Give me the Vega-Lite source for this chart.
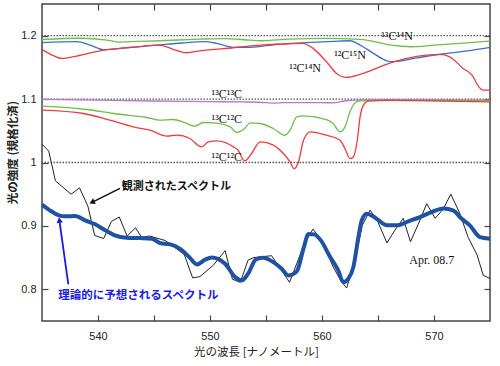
{
  "$schema": "https://vega.github.io/schema/vega-lite/v6.json",
  "width": 448,
  "height": 317,
  "autosize": {"type": "none"},
  "padding": {"left": 42, "top": 4, "right": 10, "bottom": 45},
  "background": "white",
  "config": {
    "view": {"stroke": "#444", "strokeWidth": 1.5},
    "axis": {"grid": false, "domain": false, "tickSize": -6, "tickColor": "#444", "tickWidth": 1.2, "labelFont": "Liberation Sans", "labelFontSize": 11, "labelColor": "#222"}
  },
  "datasets": {
    "refs": [{"v": 1.0}, {"v": 1.1}, {"v": 1.2}],
    "obs": [
      {"wl": 535.0, "v": 1.029}, {"wl": 535.6, "v": 1.018}, {"wl": 536.2, "v": 0.971}, {"wl": 537.6, "v": 0.950},
      {"wl": 538.35, "v": 0.960}, {"wl": 539.1, "v": 0.931}, {"wl": 539.7, "v": 0.885}, {"wl": 540.5, "v": 0.880},
      {"wl": 541.2, "v": 0.907}, {"wl": 541.9, "v": 0.914}, {"wl": 542.6, "v": 0.884}, {"wl": 543.35, "v": 0.897},
      {"wl": 543.9, "v": 0.882}, {"wl": 544.6, "v": 0.884}, {"wl": 546.0, "v": 0.877}, {"wl": 547.7, "v": 0.855},
      {"wl": 548.45, "v": 0.818}, {"wl": 549.1, "v": 0.820}, {"wl": 550.3, "v": 0.838}, {"wl": 551.35, "v": 0.861},
      {"wl": 552.0, "v": 0.816}, {"wl": 552.7, "v": 0.811}, {"wl": 553.4, "v": 0.846}, {"wl": 553.9, "v": 0.850},
      {"wl": 555.5, "v": 0.853}, {"wl": 557.1, "v": 0.811}, {"wl": 558.5, "v": 0.875}, {"wl": 559.2, "v": 0.895},
      {"wl": 560.0, "v": 0.876}, {"wl": 561.0, "v": 0.835}, {"wl": 561.7, "v": 0.813}, {"wl": 562.2, "v": 0.802},
      {"wl": 562.95, "v": 0.846}, {"wl": 563.6, "v": 0.901}, {"wl": 564.3, "v": 0.925}, {"wl": 565.0, "v": 0.906},
      {"wl": 565.8, "v": 0.873}, {"wl": 566.5, "v": 0.893}, {"wl": 567.25, "v": 0.912}, {"wl": 567.9, "v": 0.875},
      {"wl": 568.6, "v": 0.903}, {"wl": 569.35, "v": 0.935}, {"wl": 570.1, "v": 0.912}, {"wl": 570.8, "v": 0.926},
      {"wl": 571.5, "v": 0.950}, {"wl": 572.25, "v": 0.922}, {"wl": 573.05, "v": 0.882}, {"wl": 573.85, "v": 0.854},
      {"wl": 574.4, "v": 0.822}, {"wl": 575.0, "v": 0.817}
    ],
    "theo": [
      {"wl": 535.0, "v": 0.9336}, {"wl": 535.7, "v": 0.9246}, {"wl": 536.5, "v": 0.9167}, {"wl": 537.05, "v": 0.9151},
      {"wl": 537.95, "v": 0.9156}, {"wl": 538.85, "v": 0.9088}, {"wl": 539.75, "v": 0.9025}, {"wl": 540.65, "v": 0.8930},
      {"wl": 541.5, "v": 0.8851}, {"wl": 542.55, "v": 0.8814}, {"wl": 543.75, "v": 0.8808}, {"wl": 544.8, "v": 0.8799},
      {"wl": 545.55, "v": 0.8729}, {"wl": 546.45, "v": 0.8709}, {"wl": 547.3, "v": 0.8641}, {"wl": 548.2, "v": 0.8498},
      {"wl": 548.85, "v": 0.8393}, {"wl": 549.55, "v": 0.8467}, {"wl": 550.2, "v": 0.8503}, {"wl": 550.7, "v": 0.8480},
      {"wl": 551.35, "v": 0.8404}, {"wl": 552.25, "v": 0.8192}, {"wl": 552.85, "v": 0.8140}, {"wl": 553.4, "v": 0.8246},
      {"wl": 554.1, "v": 0.8472}, {"wl": 554.75, "v": 0.8498}, {"wl": 555.65, "v": 0.8429}, {"wl": 556.4, "v": 0.8325},
      {"wl": 557.0, "v": 0.8219}, {"wl": 557.75, "v": 0.8282}, {"wl": 558.35, "v": 0.8645}, {"wl": 558.8, "v": 0.8874},
      {"wl": 559.3, "v": 0.8866}, {"wl": 559.9, "v": 0.8772}, {"wl": 560.65, "v": 0.8535}, {"wl": 561.45, "v": 0.8298},
      {"wl": 561.9, "v": 0.8113}, {"wl": 562.35, "v": 0.8167}, {"wl": 562.8, "v": 0.8350}, {"wl": 563.25, "v": 0.8824},
      {"wl": 563.55, "v": 0.9088}, {"wl": 564.0, "v": 0.9193}, {"wl": 564.75, "v": 0.9130}, {"wl": 565.8, "v": 0.9009},
      {"wl": 566.7, "v": 0.9009}, {"wl": 567.7, "v": 0.9072}, {"wl": 568.75, "v": 0.9140}, {"wl": 569.8, "v": 0.9219},
      {"wl": 570.85, "v": 0.9273}, {"wl": 571.7, "v": 0.9246}, {"wl": 572.45, "v": 0.9115}, {"wl": 573.2, "v": 0.9009},
      {"wl": 574.1, "v": 0.8824}, {"wl": 575.0, "v": 0.8799}
    ],
    "mol": [
      {"s": "13C14N", "wl": 535, "v": 1.194}, {"s": "13C14N", "wl": 538.4, "v": 1.196}, {"s": "13C14N", "wl": 540.8, "v": 1.193},
      {"s": "13C14N", "wl": 541.8, "v": 1.190}, {"s": "13C14N", "wl": 543.5, "v": 1.191}, {"s": "13C14N", "wl": 545.5, "v": 1.192},
      {"s": "13C14N", "wl": 549, "v": 1.1945}, {"s": "13C14N", "wl": 551.2, "v": 1.1955}, {"s": "13C14N", "wl": 553.6, "v": 1.193},
      {"s": "13C14N", "wl": 554.5, "v": 1.192}, {"s": "13C14N", "wl": 557, "v": 1.1945}, {"s": "13C14N", "wl": 560.4, "v": 1.1958},
      {"s": "13C14N", "wl": 563.4, "v": 1.1942}, {"s": "13C14N", "wl": 564.9, "v": 1.190}, {"s": "13C14N", "wl": 566.0, "v": 1.1855},
      {"s": "13C14N", "wl": 567, "v": 1.1836}, {"s": "13C14N", "wl": 567.9, "v": 1.1826}, {"s": "13C14N", "wl": 570, "v": 1.185},
      {"s": "13C14N", "wl": 572.3, "v": 1.1879}, {"s": "13C14N", "wl": 575, "v": 1.1916},
      {"s": "12C15N", "wl": 535, "v": 1.189}, {"s": "12C15N", "wl": 538.1, "v": 1.1905}, {"s": "12C15N", "wl": 539.3, "v": 1.185},
      {"s": "12C15N", "wl": 540.5, "v": 1.178}, {"s": "12C15N", "wl": 542.5, "v": 1.181}, {"s": "12C15N", "wl": 545.2, "v": 1.185},
      {"s": "12C15N", "wl": 547.5, "v": 1.1885}, {"s": "12C15N", "wl": 549.5, "v": 1.1905}, {"s": "12C15N", "wl": 550.6, "v": 1.188},
      {"s": "12C15N", "wl": 552.1, "v": 1.1816}, {"s": "12C15N", "wl": 553.6, "v": 1.1816}, {"s": "12C15N", "wl": 556, "v": 1.1865},
      {"s": "12C15N", "wl": 558.6, "v": 1.189}, {"s": "12C15N", "wl": 561, "v": 1.191}, {"s": "12C15N", "wl": 562.5, "v": 1.192},
      {"s": "12C15N", "wl": 563.4, "v": 1.1852}, {"s": "12C15N", "wl": 564.6, "v": 1.1721}, {"s": "12C15N", "wl": 565.8, "v": 1.1604},
      {"s": "12C15N", "wl": 566.4, "v": 1.159}, {"s": "12C15N", "wl": 568.5, "v": 1.165}, {"s": "12C15N", "wl": 570.5, "v": 1.1705},
      {"s": "12C15N", "wl": 573, "v": 1.176}, {"s": "12C15N", "wl": 575, "v": 1.1816},
      {"s": "12C14N", "wl": 535, "v": 1.1784}, {"s": "12C14N", "wl": 535.9, "v": 1.1694}, {"s": "12C14N", "wl": 536.75, "v": 1.1642},
      {"s": "12C14N", "wl": 538.1, "v": 1.1679}, {"s": "12C14N", "wl": 540.5, "v": 1.1773}, {"s": "12C14N", "wl": 543, "v": 1.1815},
      {"s": "12C14N", "wl": 545.5, "v": 1.1852}, {"s": "12C14N", "wl": 546.8, "v": 1.178}, {"s": "12C14N", "wl": 547.9, "v": 1.1731},
      {"s": "12C14N", "wl": 549.1, "v": 1.1762}, {"s": "12C14N", "wl": 552.1, "v": 1.181}, {"s": "12C14N", "wl": 554.5, "v": 1.1852},
      {"s": "12C14N", "wl": 556.5, "v": 1.1868}, {"s": "12C14N", "wl": 558.3, "v": 1.1879}, {"s": "12C14N", "wl": 559.2, "v": 1.18},
      {"s": "12C14N", "wl": 560.4, "v": 1.1589}, {"s": "12C14N", "wl": 561.3, "v": 1.1405}, {"s": "12C14N", "wl": 562.2, "v": 1.1342},
      {"s": "12C14N", "wl": 563.4, "v": 1.1389}, {"s": "12C14N", "wl": 566.4, "v": 1.1589}, {"s": "12C14N", "wl": 570.5, "v": 1.1705},
      {"s": "12C14N", "wl": 571.4, "v": 1.1667}, {"s": "12C14N", "wl": 572.6, "v": 1.1484}, {"s": "12C14N", "wl": 573.4, "v": 1.1378},
      {"s": "12C14N", "wl": 574.0, "v": 1.1193}, {"s": "12C14N", "wl": 574.4, "v": 1.1141}, {"s": "12C14N", "wl": 575, "v": 1.1141},
      {"s": "13C13C", "wl": 535, "v": 1.0995}, {"s": "13C13C", "wl": 540, "v": 1.0985}, {"s": "13C13C", "wl": 545, "v": 1.097},
      {"s": "13C13C", "wl": 550, "v": 1.096}, {"s": "13C13C", "wl": 553, "v": 1.0955}, {"s": "13C13C", "wl": 555, "v": 1.0945},
      {"s": "13C13C", "wl": 555.8, "v": 1.0935}, {"s": "13C13C", "wl": 556.5, "v": 1.0945}, {"s": "13C13C", "wl": 560, "v": 1.0945},
      {"s": "13C13C", "wl": 561, "v": 1.094}, {"s": "13C13C", "wl": 562, "v": 1.097}, {"s": "13C13C", "wl": 563, "v": 1.0985},
      {"s": "13C13C", "wl": 565, "v": 1.099}, {"s": "13C13C", "wl": 575, "v": 1.0985},
      {"s": "13C12C", "wl": 535, "v": 1.0889}, {"s": "13C12C", "wl": 539, "v": 1.0836}, {"s": "13C12C", "wl": 541.4, "v": 1.0773},
      {"s": "13C12C", "wl": 543.15, "v": 1.0735}, {"s": "13C12C", "wl": 544.35, "v": 1.071}, {"s": "13C12C", "wl": 545.5, "v": 1.0667},
      {"s": "13C12C", "wl": 546.7, "v": 1.0678}, {"s": "13C12C", "wl": 547.8, "v": 1.0625}, {"s": "13C12C", "wl": 548.65, "v": 1.0573},
      {"s": "13C12C", "wl": 549.4, "v": 1.0631}, {"s": "13C12C", "wl": 550.3, "v": 1.0625}, {"s": "13C12C", "wl": 551.8, "v": 1.0562},
      {"s": "13C12C", "wl": 552.4, "v": 1.0473}, {"s": "13C12C", "wl": 553.0, "v": 1.052}, {"s": "13C12C", "wl": 553.6, "v": 1.0625},
      {"s": "13C12C", "wl": 554.5, "v": 1.0615}, {"s": "13C12C", "wl": 555.65, "v": 1.0536}, {"s": "13C12C", "wl": 556.7, "v": 1.043},
      {"s": "13C12C", "wl": 557.15, "v": 1.051}, {"s": "13C12C", "wl": 557.75, "v": 1.072}, {"s": "13C12C", "wl": 558.35, "v": 1.0735},
      {"s": "13C12C", "wl": 560.4, "v": 1.0678}, {"s": "13C12C", "wl": 561.0, "v": 1.0615}, {"s": "13C12C", "wl": 561.6, "v": 1.0483},
      {"s": "13C12C", "wl": 562.05, "v": 1.0562}, {"s": "13C12C", "wl": 562.5, "v": 1.0799}, {"s": "13C12C", "wl": 562.95, "v": 1.0941},
      {"s": "13C12C", "wl": 563.4, "v": 1.0973}, {"s": "13C12C", "wl": 565, "v": 1.098}, {"s": "13C12C", "wl": 575, "v": 1.0975},
      {"s": "12C12C", "wl": 535, "v": 1.0825}, {"s": "12C12C", "wl": 538.7, "v": 1.0773}, {"s": "12C12C", "wl": 541.05, "v": 1.0667},
      {"s": "12C12C", "wl": 543.15, "v": 1.0562}, {"s": "12C12C", "wl": 544.65, "v": 1.0509}, {"s": "12C12C", "wl": 546.15, "v": 1.0415},
      {"s": "12C12C", "wl": 547.05, "v": 1.0431}, {"s": "12C12C", "wl": 548.2, "v": 1.0378}, {"s": "12C12C", "wl": 549.25, "v": 1.0246},
      {"s": "12C12C", "wl": 549.85, "v": 1.0325}, {"s": "12C12C", "wl": 550.6, "v": 1.034}, {"s": "12C12C", "wl": 552.1, "v": 1.0246},
      {"s": "12C12C", "wl": 552.5, "v": 1.0194}, {"s": "12C12C", "wl": 553.1, "v": 1.0025}, {"s": "12C12C", "wl": 553.6, "v": 1.0115},
      {"s": "12C12C", "wl": 554.5, "v": 1.0325}, {"s": "12C12C", "wl": 555.65, "v": 1.0273}, {"s": "12C12C", "wl": 556.55, "v": 1.0141},
      {"s": "12C12C", "wl": 557.15, "v": 1.0009}, {"s": "12C12C", "wl": 557.5, "v": 0.9904}, {"s": "12C12C", "wl": 557.9, "v": 1.0009},
      {"s": "12C12C", "wl": 558.35, "v": 1.0351}, {"s": "12C12C", "wl": 558.95, "v": 1.0483}, {"s": "12C12C", "wl": 560.4, "v": 1.043},
      {"s": "12C12C", "wl": 561.6, "v": 1.0351}, {"s": "12C12C", "wl": 562.05, "v": 1.022}, {"s": "12C12C", "wl": 562.5, "v": 1.0062},
      {"s": "12C12C", "wl": 562.8, "v": 1.0088}, {"s": "12C12C", "wl": 563.15, "v": 1.0351}, {"s": "12C12C", "wl": 563.4, "v": 1.072},
      {"s": "12C12C", "wl": 563.7, "v": 1.0904}, {"s": "12C12C", "wl": 564.1, "v": 1.0968}, {"s": "12C12C", "wl": 566, "v": 1.098},
      {"s": "12C12C", "wl": 575, "v": 1.0955}
    ],
    "mlabels": [
      {"t": "¹³C¹⁴N", "wl": 566.7, "v": 1.2},
      {"t": "¹²C¹⁵N", "wl": 562.5, "v": 1.1694},
      {"t": "¹²C¹⁴N", "wl": 558.5, "v": 1.1484},
      {"t": "¹³C¹³C", "wl": 551.5, "v": 1.1073},
      {"t": "¹³C¹²C", "wl": 551.5, "v": 1.0683},
      {"t": "¹²C¹²C", "wl": 551.5, "v": 1.0088},
      {"t": "Apr. 08.7", "wl": 569.8, "v": 0.8467}
    ],
    "obsNote": [{"t": "観測されたスペクトル", "wl": 542.12, "v": 0.9614}],
    "theoNote": [{"t": "理論的に予想されるスペクトル", "wl": 536.46, "v": 0.7887}],
    "arrowK": [{"wl": 541.96, "v": 0.9591, "wl2": 539.46, "v2": 0.9372}],
    "arrowB": [{"wl": 537.35, "v": 0.8077, "wl2": 536.55, "v2": 0.9092}]
  },
  "layer": [
    {
      "data": {"name": "refs"},
      "mark": {"type": "rule", "strokeDash": [1.5, 1.5], "color": "#555", "strokeWidth": 1.3},
      "encoding": {
        "y": {"field": "v", "type": "quantitative", "scale": {"domain": [0.75, 1.25], "nice": false, "zero": false},
          "axis": {"orient": "left", "values": [0.8, 0.9, 1.0, 1.1, 1.2], "labelExpr": "format(datum.value, '~g')", "labelPadding": 12,
            "title": "光の強度 (規格化済)", "titleFont": "Noto Sans CJK JP", "titleFontSize": 11.5, "titleFontWeight": "bold", "titleColor": "#222",
            "titleAngle": -90, "titleAlign": "center", "titleBaseline": "middle", "titleX": -29, "titleY": 148}}
      }
    },
    {
      "data": {"name": "mol"},
      "mark": {"type": "line", "strokeWidth": 1.3, "interpolate": "monotone"},
      "encoding": {
        "x": {"field": "wl", "type": "quantitative", "scale": {"domain": [535, 575], "nice": false, "zero": false},
          "axis": {"orient": "bottom", "values": [540, 545, 550, 555, 560, 565, 570], "labelExpr": "datum.value % 10 === 0 ? datum.label : ''", "labelPadding": 15,
            "title": "光の波長 [ナノメートル]", "titleFont": "Noto Sans CJK JP", "titleFontSize": 11.5, "titleFontWeight": "normal", "titleColor": "#222",
            "titleX": 214, "titleY": 31, "titleBaseline": "middle"}},
        "y": {"field": "v", "type": "quantitative", "scale": {"domain": [0.75, 1.25], "nice": false, "zero": false}, "axis": null},
        "color": {"field": "s", "type": "nominal", "legend": null,
          "scale": {"domain": ["13C14N", "12C15N", "12C14N", "13C13C", "13C12C", "12C12C"], "range": ["#6cbf4a", "#3f6fc6", "#ee3a3f", "#b478c4", "#6cbf4a", "#ee3a3f"]}},
        "detail": {"field": "s"}
      }
    },
    {
      "data": {"name": "obs"},
      "mark": {"type": "line", "strokeWidth": 1, "color": "#222"},
      "encoding": {
        "x": {"field": "wl", "type": "quantitative", "scale": {"domain": [535, 575], "nice": false, "zero": false},
          "axis": {"orient": "top", "values": [540, 545, 550, 555, 560, 565, 570], "labels": false, "title": null}},
        "y": {"field": "v", "type": "quantitative", "scale": {"domain": [0.75, 1.25], "nice": false, "zero": false},
          "axis": {"orient": "right", "values": [0.8, 0.9, 1.0, 1.1, 1.2], "labels": false, "title": null}}
      }
    },
    {
      "data": {"name": "theo"},
      "mark": {"type": "line", "strokeWidth": 4, "color": "#1f52a3", "interpolate": "monotone"},
      "encoding": {
        "x": {"field": "wl", "type": "quantitative", "axis": null},
        "y": {"field": "v", "type": "quantitative", "axis": null}
      }
    },
    {
      "data": {"name": "arrowK"},
      "mark": {"type": "rule", "color": "#111", "strokeWidth": 1.5},
      "encoding": {
        "x": {"field": "wl", "type": "quantitative", "axis": null}, "y": {"field": "v", "type": "quantitative", "axis": null},
        "x2": {"field": "wl2"}, "y2": {"field": "v2"}
      }
    },
    {
      "data": {"name": "arrowK"},
      "mark": {"type": "point", "shape": "triangle-up", "filled": true, "color": "#111", "size": 40, "angle": 244, "opacity": 1},
      "encoding": {
        "x": {"field": "wl2", "type": "quantitative", "axis": null}, "y": {"field": "v2", "type": "quantitative", "axis": null}
      }
    },
    {
      "data": {"name": "arrowB"},
      "mark": {"type": "rule", "color": "#1a1ae6", "strokeWidth": 1.8},
      "encoding": {
        "x": {"field": "wl", "type": "quantitative", "axis": null}, "y": {"field": "v", "type": "quantitative", "axis": null},
        "x2": {"field": "wl2"}, "y2": {"field": "v2"}
      }
    },
    {
      "data": {"name": "arrowB"},
      "mark": {"type": "point", "shape": "triangle-up", "filled": true, "color": "#1a1ae6", "size": 40, "angle": 352, "opacity": 1},
      "encoding": {
        "x": {"field": "wl2", "type": "quantitative", "axis": null}, "y": {"field": "v2", "type": "quantitative", "axis": null}
      }
    },
    {
      "data": {"name": "mlabels"},
      "mark": {"type": "text", "font": "Liberation Serif", "fontSize": 12, "color": "#111", "align": "center", "baseline": "middle"},
      "encoding": {
        "x": {"field": "wl", "type": "quantitative", "axis": null}, "y": {"field": "v", "type": "quantitative", "axis": null},
        "text": {"field": "t"}
      }
    },
    {
      "data": {"name": "obsNote"},
      "mark": {"type": "text", "font": "Noto Sans CJK JP", "fontSize": 11, "fontWeight": "bold", "color": "#111", "align": "left", "baseline": "middle"},
      "encoding": {
        "x": {"field": "wl", "type": "quantitative", "axis": null}, "y": {"field": "v", "type": "quantitative", "axis": null},
        "text": {"field": "t"}
      }
    },
    {
      "data": {"name": "theoNote"},
      "mark": {"type": "text", "font": "Noto Sans CJK JP", "fontSize": 11.5, "fontWeight": "bold", "color": "#1a1ae6", "align": "left", "baseline": "middle"},
      "encoding": {
        "x": {"field": "wl", "type": "quantitative", "axis": null}, "y": {"field": "v", "type": "quantitative", "axis": null},
        "text": {"field": "t"}
      }
    }
  ],
  "resolve": {"axis": {"x": "independent", "y": "independent"}}
}
